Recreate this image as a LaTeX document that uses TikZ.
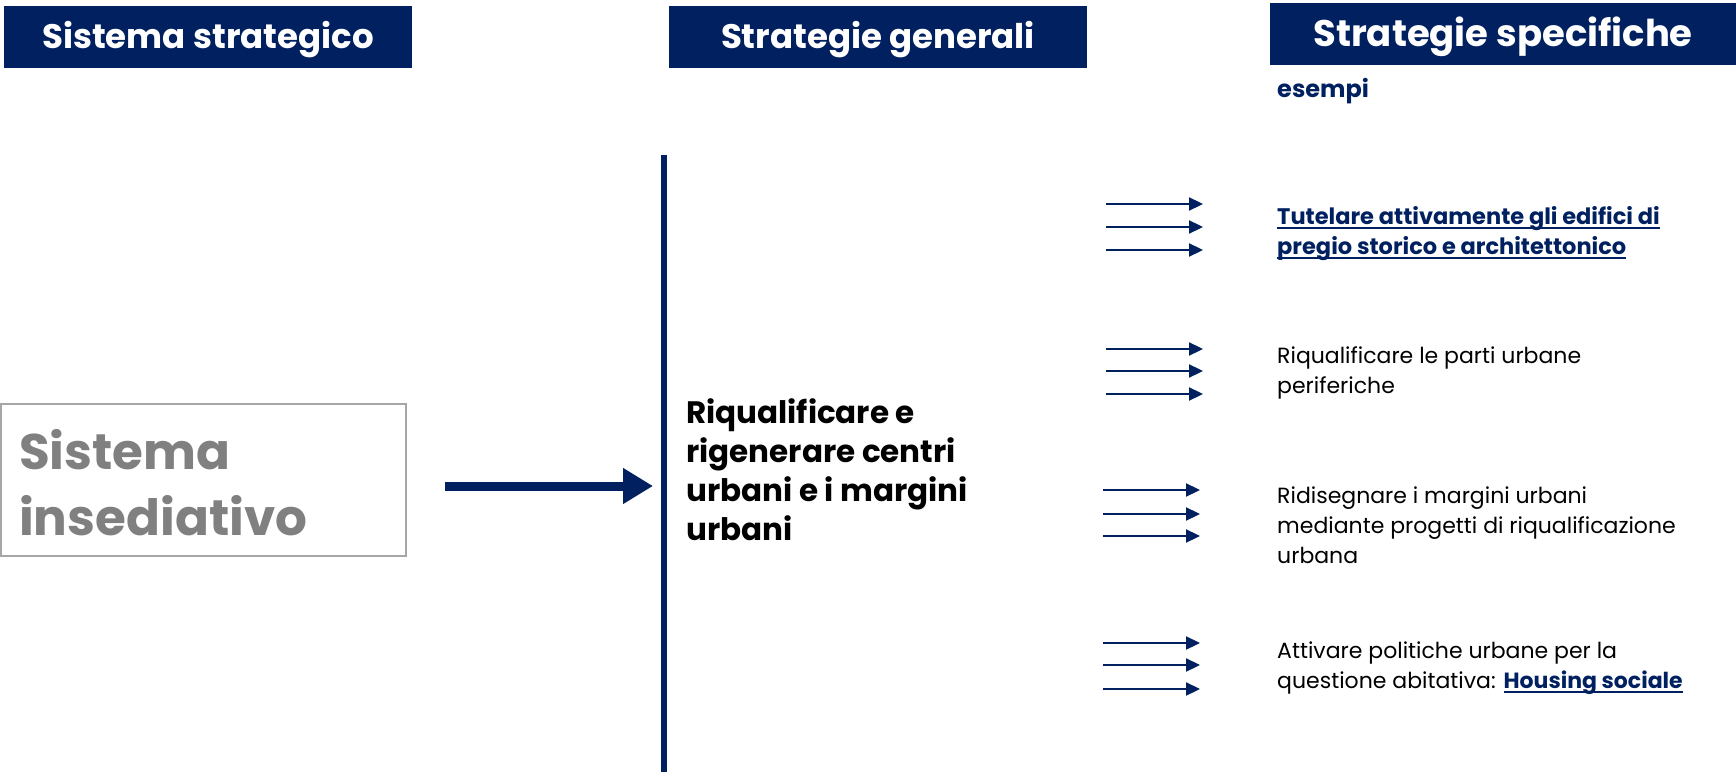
\documentclass[tikz,border=0pt]{standalone}
\usepackage{fontspec}
\setmainfont{Poppins}
\usetikzlibrary{arrows.meta}
\definecolor{navy}{HTML}{002060}
\definecolor{boxgray}{HTML}{A6A6A6}
\definecolor{txtgray}{HTML}{808080}
\newcommand\myul[1]{\setbox0\hbox{#1}\rlap{\rule[-4.5pt]{\wd0}{2pt}}\box0}
\begin{document}
\begin{tikzpicture}[x=1pt,y=-1pt,
  header/.style={fill=navy,inner sep=0pt,minimum height=62pt},
  headtext/.style={text=white,font=\fontsize{34}{40}\selectfont\bfseries,inner sep=0pt},
  smallarrow/.style={draw=navy,line width=2.2pt,-{Triangle[length=14pt,width=13pt]}},
  itemtext/.style={anchor=west,align=left,inner sep=0pt,font=\fontsize{22}{30}\selectfont},
  linktext/.style={anchor=west,align=left,inner sep=0pt,text=navy,font=\fontsize{22.5}{30}\selectfont\bfseries}]
\useasboundingbox (0,0) rectangle (1736,775);
% headers
\node[header,minimum width=408pt] (h1) at (208,37) {};
\node[headtext] (h1t) at ([yshift=-3pt]h1.center) {Sistema strategico};
\node[header,minimum width=418pt] (h2) at (878,37) {};
\node[headtext] (h2t) at ([yshift=-3pt]h2.center) {Strategie generali};
\node[header,minimum width=466pt] (h3) at (1503,34) {};
\node[headtext,font=\fontsize{37}{42}\selectfont\bfseries] (h3t) at ([yshift=-3pt]h3.center) {Strategie specifiche};
\node[anchor=west,inner sep=0pt,text=navy,font=\fontsize{24}{28}\selectfont\bfseries] (es) at (1277,91) {esempi};
% left box
\node[draw=boxgray,line width=1.5pt,minimum width=405pt,minimum height=152pt,inner sep=0pt] (box) at (203.5,480) {};
\node[anchor=west,inner sep=0pt,align=left,text=txtgray,font=\fontsize{50}{66}\selectfont\bfseries] (boxt) at (19,483) {Sistema\\insediativo};
% vertical bar
\coordinate (vtop) at (664,155);
\coordinate (vbot) at (664,772);
\draw[navy,line width=5.5pt] (vtop) -- (vbot);
% big arrow
\coordinate (bas) at (445,486);
\coordinate (bae) at (653,486);
\draw[navy,line width=9pt,-{Triangle[length=30pt,width=34pt]}] (bas) -- (bae);
% middle text
\node[anchor=west,align=left,inner sep=0pt,font=\fontsize{31}{39}\selectfont\bfseries] (mid) at (686,470) {Riqualificare e\\rigenerare centri\\urbani e i margini\\urbani};
% small arrows
\foreach \y [count=\i] in {204,227,250} {\coordinate (a1s\i) at (1106,\y); \coordinate (a1e\i) at (1203,\y); \draw[smallarrow] (a1s\i) -- (a1e\i);}
\foreach \y [count=\i] in {349,371,394} {\coordinate (a2s\i) at (1106,\y); \coordinate (a2e\i) at (1203,\y); \draw[smallarrow] (a2s\i) -- (a2e\i);}
\foreach \y [count=\i] in {490,514,536} {\coordinate (a3s\i) at (1103,\y); \coordinate (a3e\i) at (1200,\y); \draw[smallarrow] (a3s\i) -- (a3e\i);}
\foreach \y [count=\i] in {643,665,689} {\coordinate (a4s\i) at (1103,\y); \coordinate (a4e\i) at (1200,\y); \draw[smallarrow] (a4s\i) -- (a4e\i);}
% right texts
\node[linktext] (t1) at (1277,234) {\myul{Tutelare attivamente gli edifici di}\\\myul{pregio storico e architettonico}};
\node[itemtext] (t2) at (1277,373) {Riqualificare le parti urbane\\periferiche};
\node[itemtext] (t3) at (1277,525) {Ridisegnare i margini urbani\\mediante progetti di riqualificazione\\urbana};
\node[itemtext] (t4) at (1277,668) {Attivare politiche urbane per la\\questione abitativa: {\color{navy}\bfseries\myul{Housing sociale}}};
\end{tikzpicture}
\end{document}
